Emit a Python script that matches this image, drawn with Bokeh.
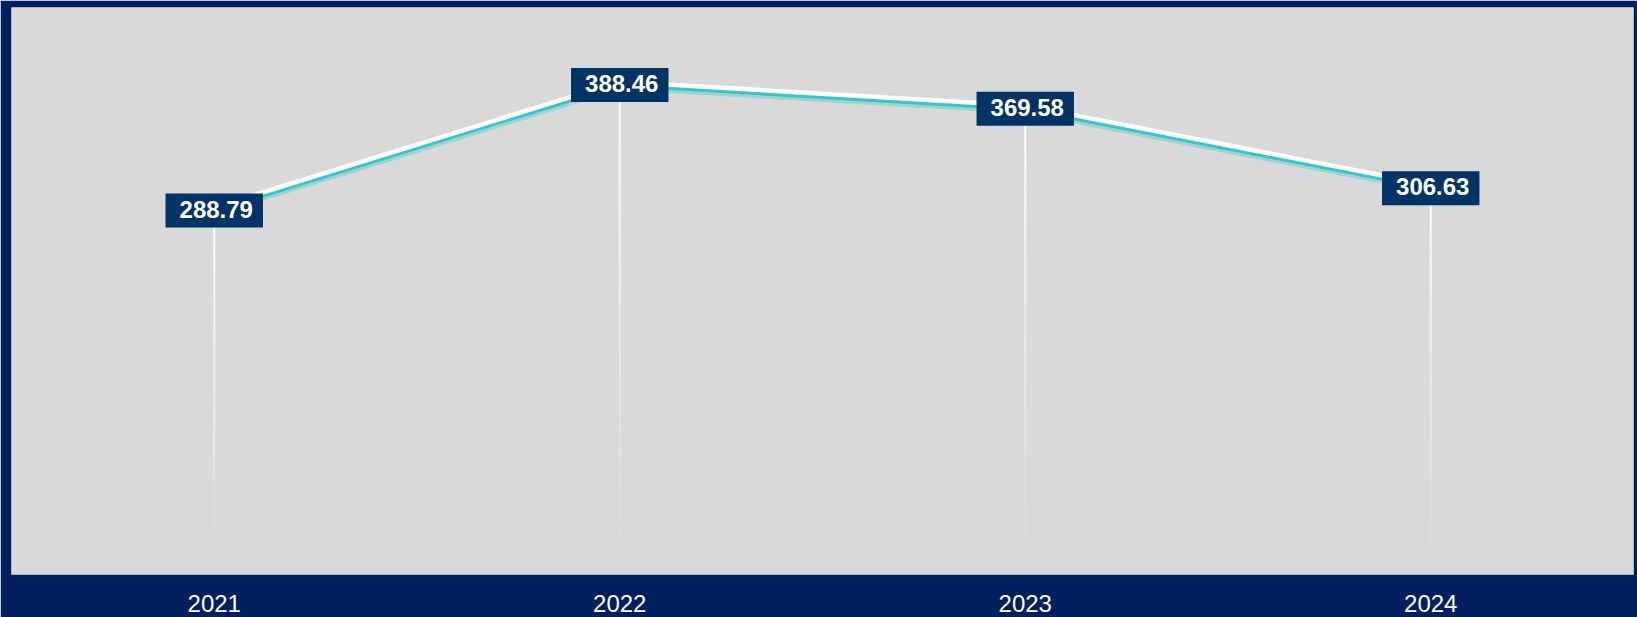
from bokeh.plotting import figure
from bokeh.models import Range1d, FactorRange, ColumnDataSource
from bokeh.core.properties import value
from bokeh.embed import file_html
from bokeh.resources import INLINE

years = ["2021", "2022", "2023", "2024"]
values = [288.79, 388.46, 369.58, 306.63]
value_labels = ["288.79", "388.46", "369.58", "306.63"]

NAVY = "#001F5F"
PANEL = "#D9D9D9"
BOX = "#003366"
TEAL = "#33C7C7"

Y_MAX = 450
FRAME_H = 567
px = Y_MAX / FRAME_H  # data units per pixel

p = figure(
    x_range=FactorRange(*years, range_padding=0),
    y_range=Range1d(0, Y_MAX),
    frame_width=1622, frame_height=FRAME_H,
    min_border_left=11, min_border_right=4, min_border_top=7, min_border_bottom=43,
    output_backend="svg", toolbar_location=None,
)
p.background_fill_color = PANEL
p.border_fill_color = NAVY
p.outline_line_color = None
p.xgrid.grid_line_color = None
p.ygrid.grid_line_color = None
p.yaxis.visible = False

xa = p.xaxis[0]
xa.axis_line_color = None
xa.major_tick_line_color = None
xa.minor_tick_line_color = None
xa.major_label_text_color = "white"
xa.major_label_text_font = "Liberation Sans"
xa.major_label_text_font_size = "24px"
xa.major_label_standoff = 14

# fading drop lines (white to transparent)
N = 40
sx, sy0, sy1, sa = [], [], [], []
for yr, v in zip(years, values):
    for k in range(N):
        sx.append(yr)
        sy0.append(v * (1 - k / N))
        sy1.append(v * (1 - (k + 1) / N))
        sa.append(max(0.0, 0.95 * (1 - k / (N * 0.98))))
p.segment(x0=sx, y0=sy0, x1=sx, y1=sy1, line_color="white", line_alpha=sa, line_width=2)

# teal shadow line + white line above
p.line(years, [v - 1.5 * px for v in values], line_color=TEAL, line_width=7, line_alpha=0.35, line_join="round")
p.line(years, values, line_color=TEAL, line_width=4, line_join="round")
p.line(years, [v + 3.2 * px for v in values], line_color="white", line_width=4.5, line_join="round")

src = ColumnDataSource(dict(x=years, y=values, t=value_labels))
p.text(
    x="x", y="y", text="t", source=src,
    text_align="center", text_baseline="middle",
    text_color="white", text_font=value("Liberation Sans"), text_font_style="bold",
    text_font_size="24px",
    background_fill_color=BOX,
    padding=(14, 10, 7, 10),
    x_offset=0, y_offset=0,
)

open("out.html", "w").write(file_html(p, INLINE))
